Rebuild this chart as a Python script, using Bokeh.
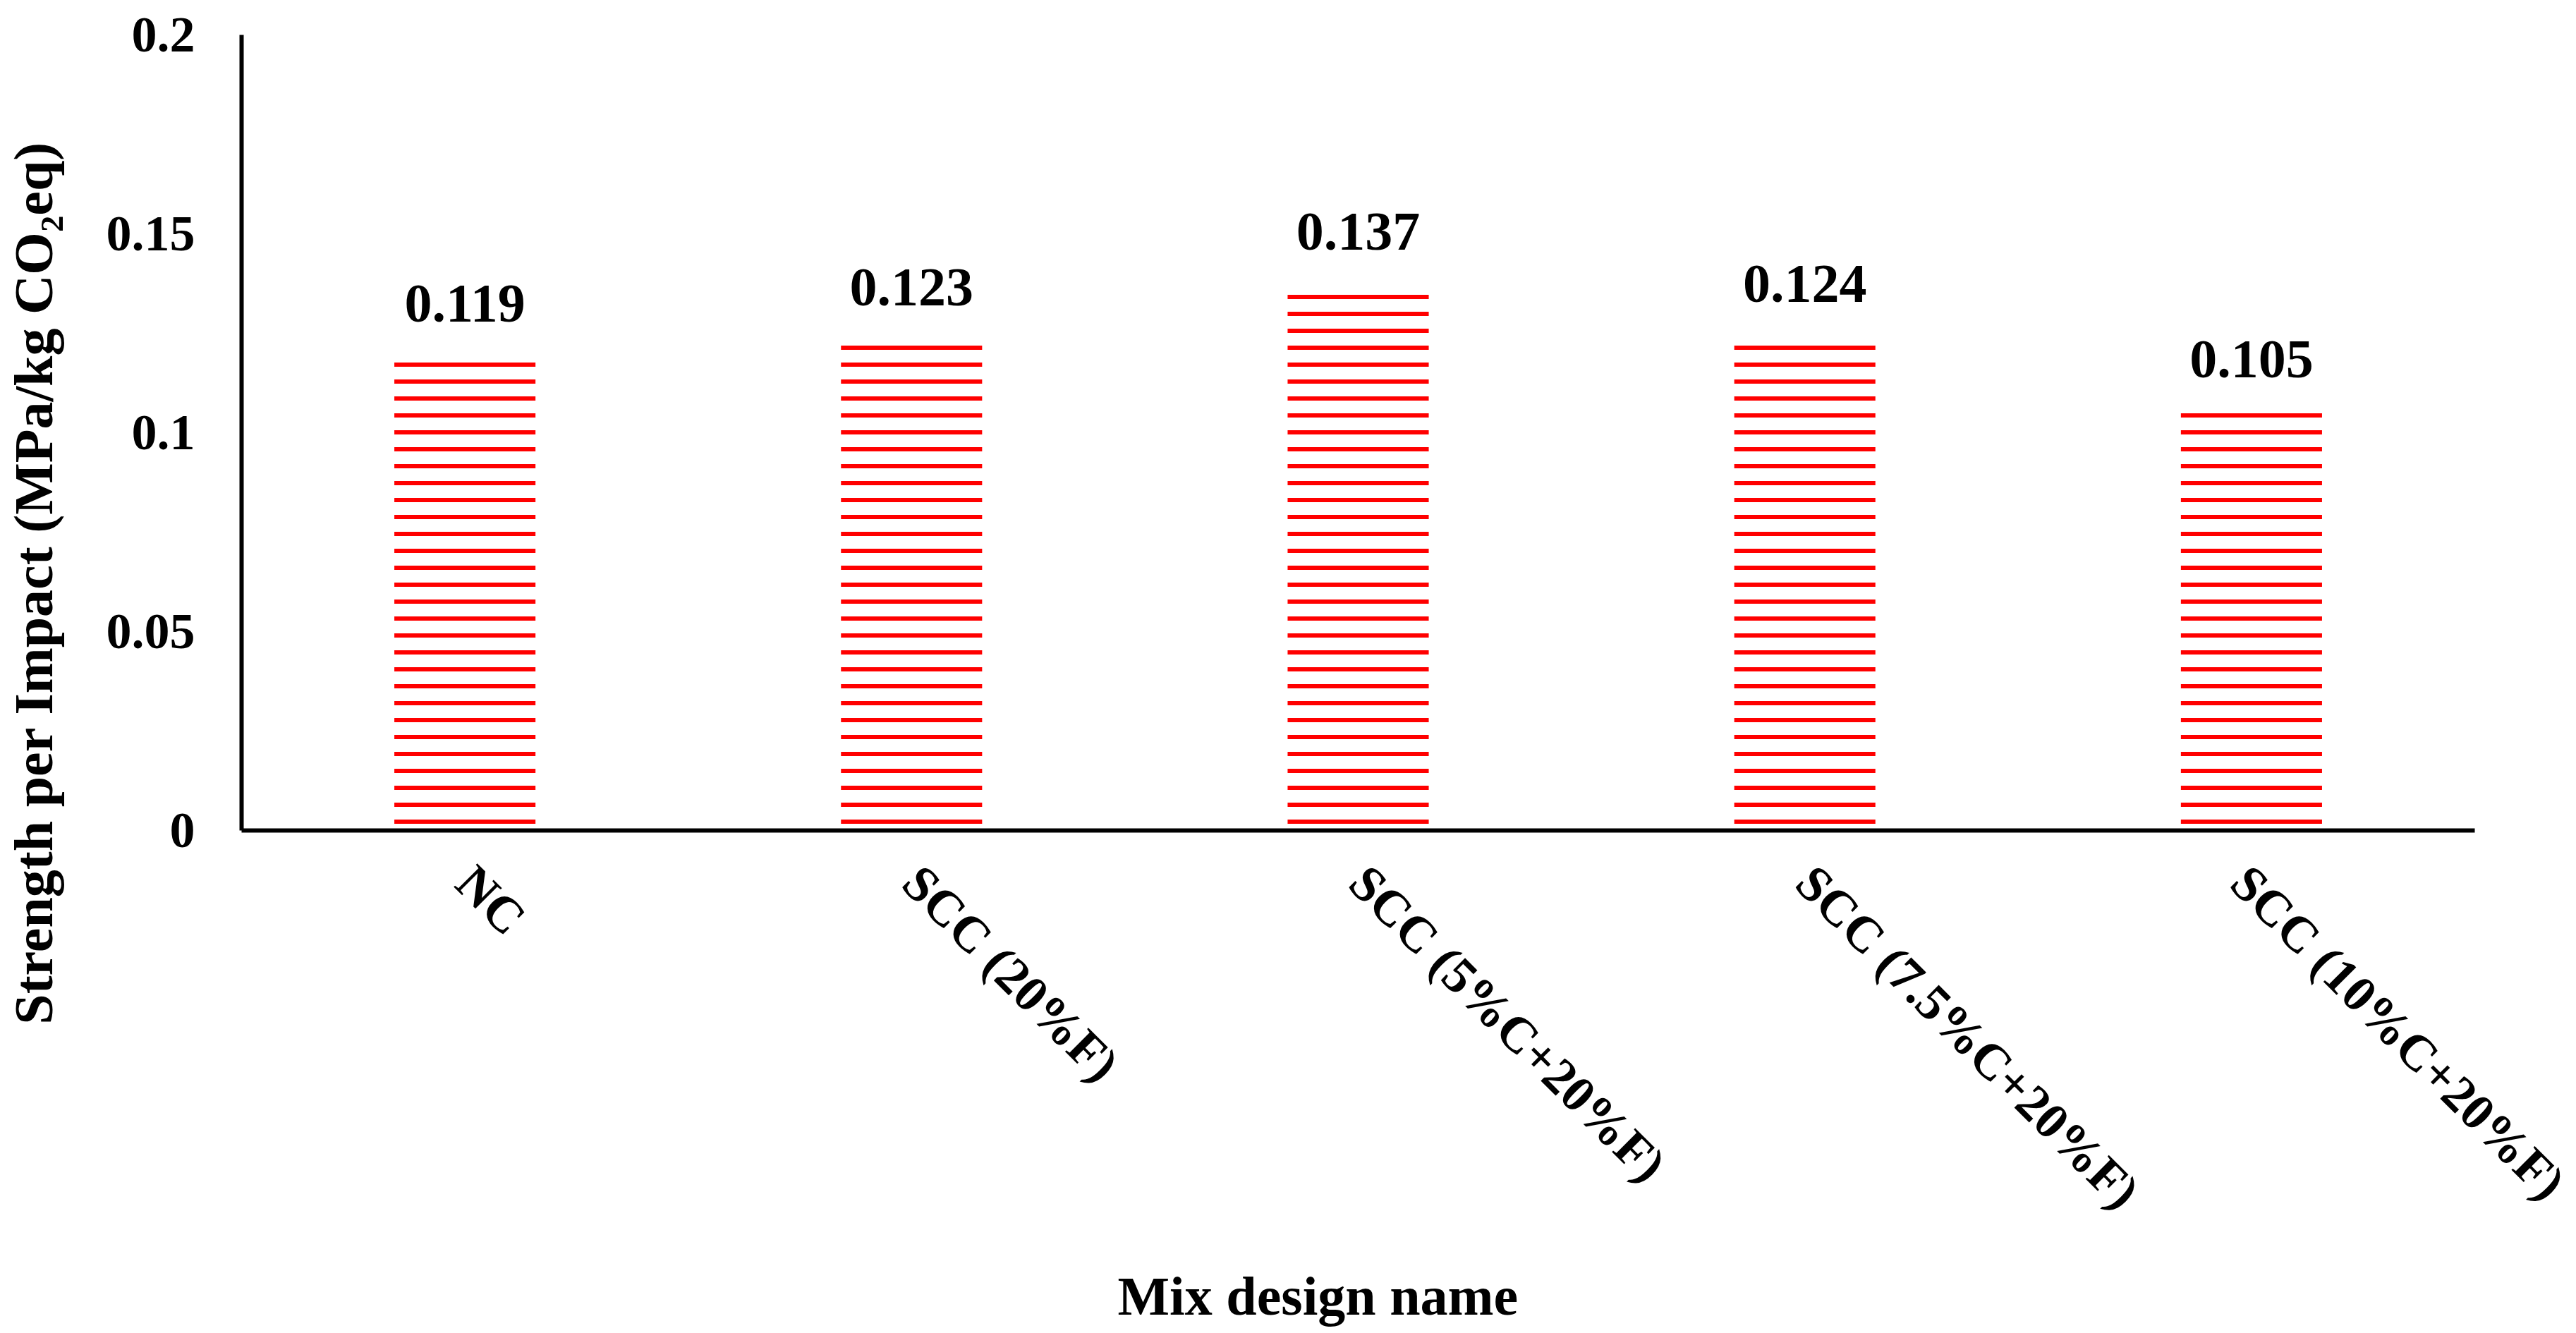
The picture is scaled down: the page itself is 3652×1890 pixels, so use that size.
import math
from bokeh.plotting import figure
from bokeh.models import FactorRange, Range1d, FixedTicker, ColumnDataSource, Title, Label
from bokeh.core.properties import value
from bokeh.embed import file_html
from bokeh.resources import INLINE

categories = ["NC", "SCC (20%F)", "SCC (5%C+20%F)", "SCC (7.5%C+20%F)", "SCC (10%C+20%F)"]
strength_per_impact = [0.119, 0.123, 0.137, 0.124, 0.105]
value_labels = ["0.119", "0.123", "0.137", "0.124", "0.105"]
y_ticks = [0, 0.05, 0.1, 0.15, 0.2]
y_tick_labels = ["0", "0.05", "0.1", "0.15", "0.2"]
y_title = "Strength per Impact (MPa/kg CO\u2082eq)"
x_title = "Mix design name"

FONT = "Liberation Serif"

src = ColumnDataSource(dict(cat=categories, val=strength_per_impact, lab=value_labels))

p = figure(
    frame_width=3166, frame_height=1128,
    x_range=FactorRange(*categories, range_padding=0),
    y_range=Range1d(0, 0.2),
    output_backend="svg", toolbar_location=None,
    min_border_left=342, min_border_right=144, min_border_top=49, min_border_bottom=705,
)
p.outline_line_color = None
p.xgrid.visible = False
p.ygrid.visible = False
p.background_fill_color = "white"
p.border_fill_color = "white"

p.vbar(x="cat", top="val", width=0.316, bottom=0, source=src,
       fill_color=None, line_color=None,
       hatch_pattern="horizontal_line", hatch_color="#FF0000",
       hatch_weight=6, hatch_scale=24)

p.text(x="cat", y="val", text="lab", source=src,
       text_font=value(FONT), text_font_style="bold", text_font_size="78px",
       text_align="center", text_baseline="middle", y_offset=-76, text_color="black")

# y axis
p.yaxis.ticker = FixedTicker(ticks=y_ticks)
p.yaxis.major_label_overrides = {t: l for t, l in zip(y_ticks, y_tick_labels)}
p.yaxis.major_label_text_font = FONT
p.yaxis.major_label_text_font_style = "bold"
p.yaxis.major_label_text_font_size = "72px"
p.yaxis.major_label_text_color = "black"
p.yaxis.major_label_standoff = 60
p.yaxis.major_tick_line_color = None
p.yaxis.minor_tick_line_color = None
p.yaxis.axis_line_width = 6
p.yaxis.axis_line_color = "black"

# x axis
p.xaxis.major_label_orientation = -math.pi / 4
p.xaxis.major_label_text_font = FONT
p.xaxis.major_label_text_font_style = "bold"
p.xaxis.major_label_text_font_size = "72px"
p.xaxis.major_label_text_color = "black"
p.xaxis.major_label_standoff = 56
p.xaxis.major_tick_line_color = None
p.xaxis.minor_tick_line_color = None
p.xaxis.axis_line_width = 6
p.xaxis.axis_line_color = "black"

# axis titles, placed off-centre as in the reference
p.add_layout(Label(text=y_title, x=-13, y=351, x_units="screen", y_units="screen",
                   angle=math.pi / 2, text_align="center", text_baseline="alphabetic",
                   text_font=FONT, text_font_style="bold", text_font_size="78px",
                   text_color="black"), "left")
p.add_layout(Title(text=x_title, align="left", offset=1242, standoff=63,
                   text_font=FONT, text_font_style="bold", text_font_size="78px",
                   text_color="black"), "below")

open("out.html", "w").write(file_html(p, INLINE))
